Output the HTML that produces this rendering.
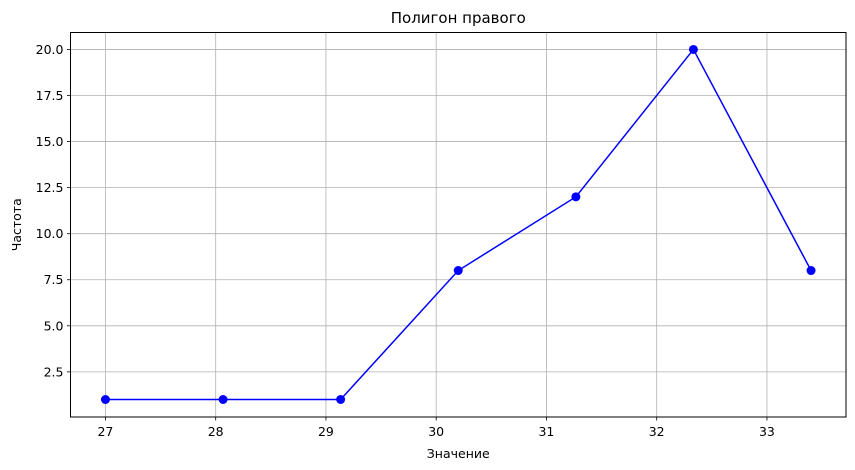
<!DOCTYPE html>
<html><head><meta charset="utf-8"><style>
body{margin:0;background:#fff;}
svg{display:block;font-family:"DejaVu Sans","Liberation Sans",sans-serif;}
</style></head><body>
<svg id="chart" width="855" height="470"></svg>
<script>
const xValues=[27,28.067,29.133,30.2,31.267,32.333,33.4];
const yValues=[1,1,1,8,12,20,8];
const xTicks=[27,28,29,30,31,32,33];
const yTicks=[2.5,5.0,7.5,10.0,12.5,15.0,17.5,20.0];
const L=70.5,R=846,T=32.5,B=417;
const xMin=26.683,xMax=33.717,yMin=0.05,yMax=20.92;
const sx=v=>L+(v-xMin)/(xMax-xMin)*(R-L);
const sy=v=>B-(v-yMin)/(yMax-yMin)*(B-T);
const svg=document.getElementById('chart');
const NS='http://www.w3.org/2000/svg';
function mk(tag,attrs,parent){const e=document.createElementNS(NS,tag);for(const k in attrs)e.setAttribute(k,attrs[k]);(parent||svg).appendChild(e);return e;}
xTicks.forEach(t=>{
 const x=sx(t);
 const g=mk('line',{x1:x,x2:x,y1:T,y2:B,stroke:'#b0b0b0','stroke-width':0.8});
 
 
 mk('line',{x1:x,x2:x,y1:B,y2:B+3.5,stroke:'#000','stroke-width':0.8});
 const tx=mk('text',{x:x,y:B+19,'text-anchor':'middle','font-size':12.5,fill:'#000'});
 tx.textContent=t;
 
 
});
yTicks.forEach(t=>{
 const y=sy(t);
 const g=mk('line',{x1:L,x2:R,y1:y,y2:y,stroke:'#b0b0b0','stroke-width':0.8});
 
 
 mk('line',{x1:L-3.5,x2:L,y1:y,y2:y,stroke:'#000','stroke-width':0.8});
 const tx=mk('text',{x:L-7,y:y+4.5,'text-anchor':'end','font-size':12.5,fill:'#000'});
 tx.textContent=t.toFixed(1);
 
 
});
const fr=mk('rect',{x:L,y:T,width:R-L,height:B-T,fill:'none',stroke:'#000','stroke-width':1});


const pl=mk('polyline',{points:xValues.map((x,i)=>sx(x)+','+sy(yValues[i])).join(' '),fill:'none',stroke:'#0000ff','stroke-width':1.5});


xValues.forEach((x,i)=>{
 const c=mk('circle',{cx:sx(x),cy:sy(yValues[i]),r:4.5,fill:'#0000ff'});
 
 
});
const ti=mk('text',{x:(L+R)/2,y:23,'text-anchor':'middle','font-size':15,fill:'#000'});
ti.textContent='Полигон правого';


const xl=mk('text',{x:(L+R)/2,y:458,'text-anchor':'middle','font-size':12.5,fill:'#000'});
xl.textContent='Значение';


const yl=mk('text',{x:0,y:0,'text-anchor':'middle','font-size':12.5,fill:'#000',transform:'translate(21,'+((T+B)/2)+') rotate(-90)'});
yl.textContent='Частота';


</script>
</body></html>
